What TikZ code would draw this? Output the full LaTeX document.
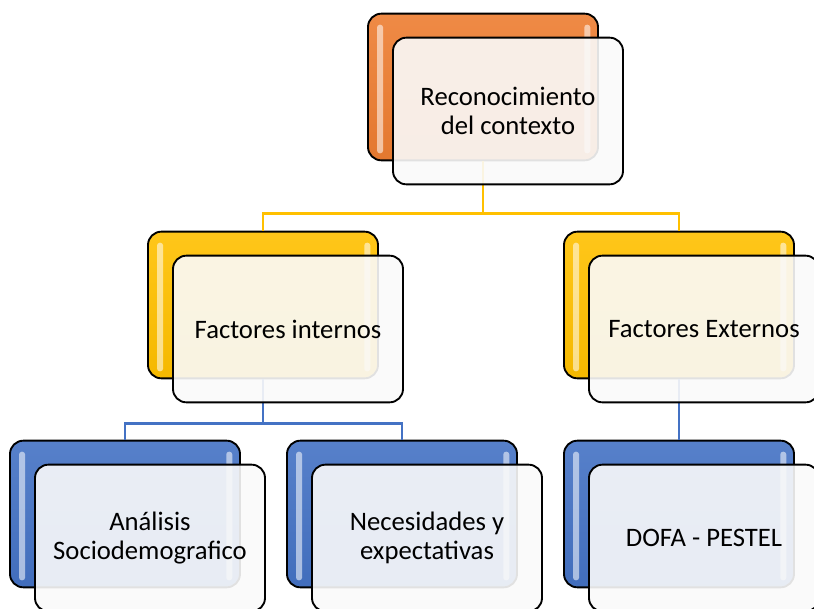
\documentclass[tikz,border=0pt]{standalone}
\usepackage{fontspec}
\setmainfont{Carlito}
\usetikzlibrary{positioning}

\definecolor{ctxorange}{HTML}{ED7D31}
\definecolor{factyellow}{HTML}{FFC000}
\definecolor{toolblue}{HTML}{4472C4}

\tikzset{
  backbox/.style={draw=black, line width=1.4pt, rounded corners=10pt,
    minimum width=172.5pt, minimum height=110pt, inner sep=0pt,
    top color=#1!90!white, bottom color=#1!96!black},
  frontbox/.style={draw=black, line width=1.4pt, rounded corners=10pt,
    minimum width=172.5pt, minimum height=110pt, inner sep=2pt,
    fill=white!98!black, fill opacity=0.9, text opacity=1, align=center,
    font=\fontsize{20}{22}\selectfont},
  link/.style={draw=#1, line width=2pt},
  gloss/.style={fill=white, opacity=0.55, rounded corners=2pt},
}

% light strips on both sides of a back box
\newcommand\glossbox[1]{%
  \fill[gloss] ([shift={(7.5pt,-9pt)}]#1.north west) rectangle ([shift={(12pt,6pt)}]#1.south west);
  \fill[gloss] ([shift={(-11pt,-9pt)}]#1.north east) rectangle ([shift={(-6.5pt,6pt)}]#1.south east);
}

\begin{document}
\begin{tikzpicture}[x=0.75pt, y=-0.75pt]
\useasboundingbox (0,0) rectangle (814,608);

% back boxes
\node[backbox=ctxorange] (ctxb) at (483,87) {};
\node[backbox=factyellow] (intb) at (263,305) {};
\node[backbox=factyellow] (extb) at (679,305) {};
\node[backbox=toolblue] (socb) at (125,514) {};
\node[backbox=toolblue] (necb) at (402,514) {};
\node[backbox=toolblue] (dofb) at (679,514) {};
\foreach \b in {ctxb,intb,extb,socb,necb,dofb} {\glossbox{\b}}

% connectors
\draw[link=factyellow] (ctxb.south) -- ++(0,52) -| (intb.north);
\draw[link=factyellow] (ctxb.south) -- ++(0,52) -| (extb.north);
\draw[link=toolblue] (intb.south) -- ++(0,44) -| (socb.north);
\draw[link=toolblue] (intb.south) -- ++(0,44) -| (necb.north);
\draw[link=toolblue] (extb.south) -- (dofb.north);

% front boxes with the labels
\node[frontbox] (ctx) at ([shift={(25,24)}]ctxb.center) {Reconocimiento\\del contexto};
\node[frontbox] (int) at ([shift={(25,24)}]intb.center) {Factores internos};
\node[frontbox] (ext) at ([shift={(25,24)}]extb.center) {Factores Externos};
\node[frontbox] (soc) at ([shift={(25,24)}]socb.center) {Análisis\\Sociodemografico};
\node[frontbox] (nec) at ([shift={(25,24)}]necb.center) {Necesidades y\\expectativas};
\node[frontbox] (dof) at ([shift={(25,24)}]dofb.center) {DOFA - PESTEL};
\end{tikzpicture}
\end{document}
